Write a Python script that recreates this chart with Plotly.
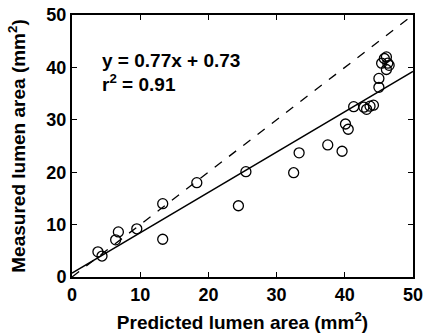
import plotly.graph_objects as go

predicted = [3.8, 4.4, 6.4, 6.8, 9.5, 13.3, 13.3, 18.3, 24.4, 25.5, 32.5, 33.3, 37.5, 39.6,
             40.1, 40.5, 41.3, 42.8, 43.2, 43.7, 44.2, 45.0, 45.0, 45.4, 46.1, 46.1, 46.3, 46.5, 45.8]
measured = [4.8, 4.0, 7.1, 8.6, 9.2, 14.0, 7.2, 18.0, 13.6, 20.1, 19.9, 23.7, 25.2, 24.0,
            29.2, 28.2, 32.5, 32.4, 32.0, 32.6, 32.8, 36.2, 37.9, 40.8, 42.0, 39.6, 40.8, 40.4, 41.7]
slope = 0.77
intercept = 0.73
r2 = 0.91
x_range = [0, 50]
y_range = [0, 50]
ticks = [0, 10, 20, 30, 40, 50]

FONT = "Liberation Sans, Arial, sans-serif"

fig = go.Figure()
fig.add_trace(go.Scatter(x=x_range, y=y_range, mode="lines",
                         line=dict(color="black", width=1.3, dash="dash"), showlegend=False))
fig.add_trace(go.Scatter(x=x_range, y=[slope * v + intercept for v in x_range], mode="lines",
                         line=dict(color="black", width=1.5), showlegend=False))
fig.add_trace(go.Scatter(x=predicted, y=measured, mode="markers",
                         marker=dict(symbol="circle-open", size=10, color="black",
                                     line=dict(width=1.3, color="black")),
                         showlegend=False, cliponaxis=False))

fig.add_annotation(x=4.1, y=41.4, xref="x", yref="y", xanchor="left", yanchor="middle",
                   text=f"<b>y = {slope}x + {intercept}</b>", showarrow=False,
                   font=dict(family=FONT, size=19, color="black"))
fig.add_annotation(x=4.1, y=37.0, xref="x", yref="y", xanchor="left", yanchor="middle",
                   text=f"<b>r<sup>2</sup> = {r2}</b>", showarrow=False,
                   font=dict(family=FONT, size=19, color="black"))

axis_common = dict(showline=True, linecolor="black", linewidth=2, mirror="ticks",
                   ticks="inside", ticklen=5, tickwidth=1.2, tickcolor="black",
                   showgrid=False, zeroline=False, tickvals=ticks, automargin=False,
                   ticklabeloverflow="allow",
                   tickfont=dict(family=FONT, size=18, color="black"))

fig.update_xaxes(range=x_range, title=dict(text="<b>Predicted lumen area (mm<sup>2</sup>)</b>",
                                           font=dict(family=FONT, size=19, color="black"), standoff=16),
                 ticktext=[f"<b>{t}</b>" for t in ticks], **axis_common)
fig.update_yaxes(range=y_range, title=dict(text="<b>Measured lumen area (mm<sup>2</sup>)</b>",
                                           font=dict(family=FONT, size=19, color="black"), standoff=16),
                 ticktext=[f"<b>{t}</b>" for t in ticks], **axis_common)

fig.update_layout(width=423, height=333, margin=dict(l=72, r=10, t=15, b=56),
                  plot_bgcolor="white", paper_bgcolor="white")

fig.write_html("out.html")
